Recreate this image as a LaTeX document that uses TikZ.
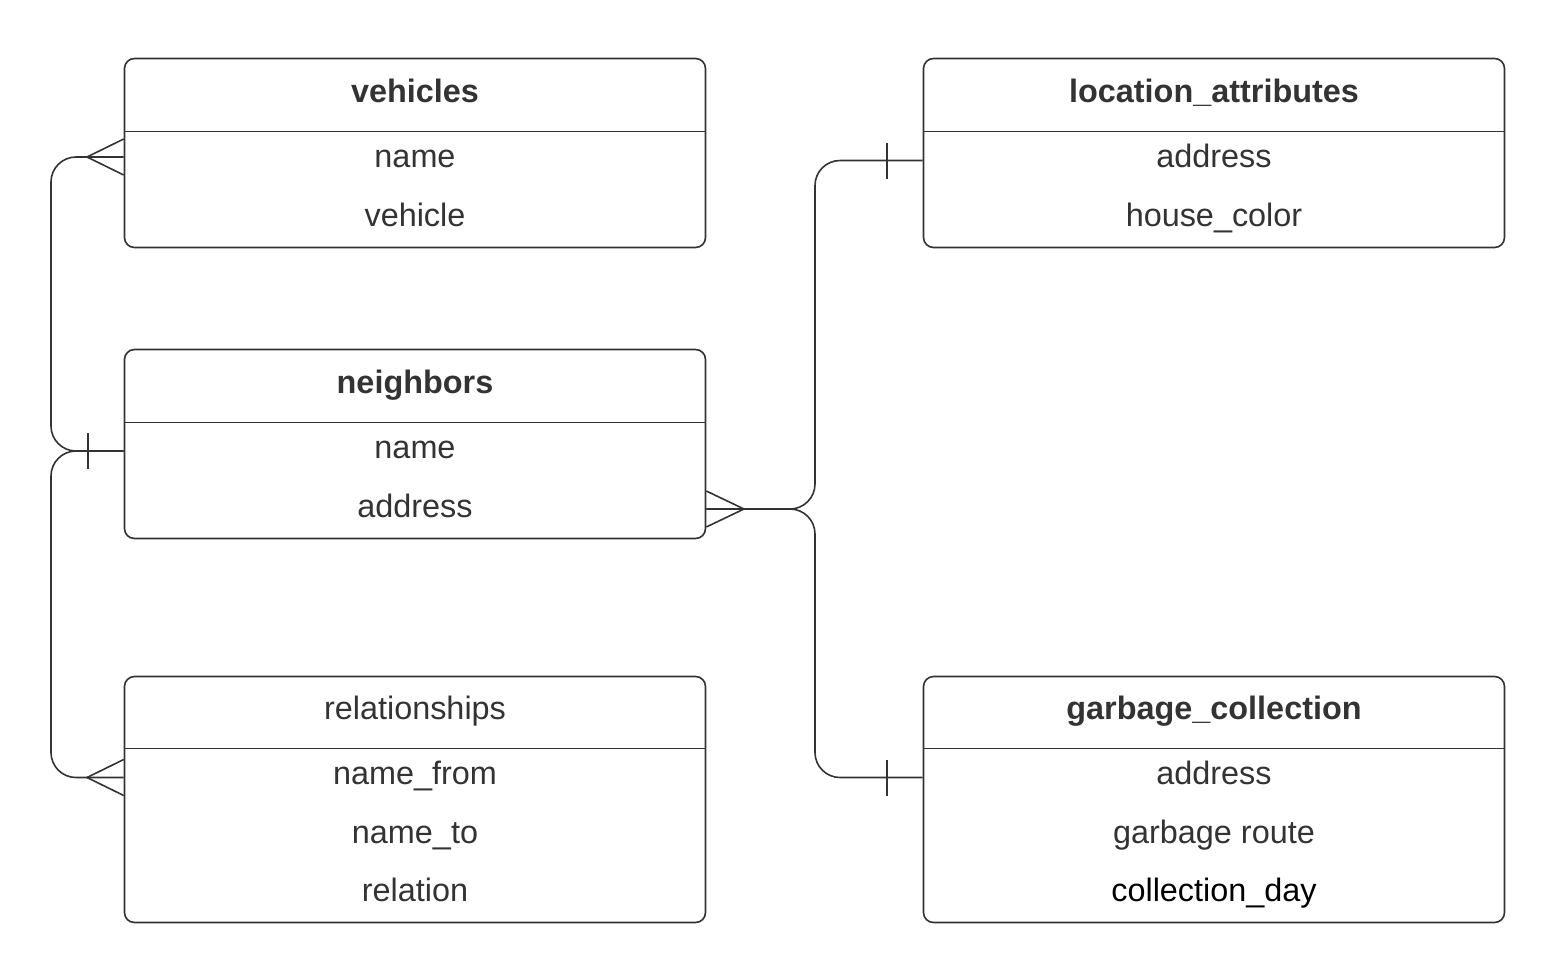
\documentclass[tikz,border=0pt]{standalone}
\usepackage{fontspec}
\setmainfont{Liberation Sans}
\definecolor{ink}{HTML}{333333}
\begin{document}
\begin{tikzpicture}[x=1pt,y=-1pt,
  entity/.style={draw=ink, line width=1.6pt, rounded corners=10pt, inner sep=0pt, minimum width=581pt},
  sep/.style={draw=ink, line width=1.6pt},
  conn/.style={draw=ink, line width=1.6pt, rounded corners=25pt},
  foot/.style={draw=ink, line width=1.6pt},
  txt/.style={anchor=base, text=ink, font=\fontsize{32.4}{38}\selectfont, inner sep=0pt},
  ttl/.style={txt, font=\fontsize{32.4}{38}\selectfont\bfseries}
]
\useasboundingbox (0,0) rectangle (1550,972);

% ---------- vehicles ----------
\node[entity, minimum height=189pt] (veh) at (415,153) {};
\draw[sep] (veh.west |- 0,131.5) -- (veh.east |- 0,131.5);
\node[ttl] (vehT) at (415,102) {vehicles};
\node[txt] (vehA) at (415,167.5) {name};
\node[txt] (vehB) at (415,226) {vehicle};

% ---------- neighbors ----------
\node[entity, minimum height=189pt] (nb) at (415,444) {};
\draw[sep] (nb.west |- 0,422.5) -- (nb.east |- 0,422.5);
\node[ttl] (nbT) at (415,393) {neighbors};
\node[txt] (nbA) at (415,458.5) {name};
\node[txt] (nbB) at (415,517) {address};

% ---------- relationships ----------
\node[entity, minimum height=246pt] (rel) at (415,799.5) {};
\draw[sep] (rel.west |- 0,748.5) -- (rel.east |- 0,748.5);
\node[txt] (relT) at (415,719.5) {relationships};
\node[txt] (relA) at (415,784) {name\_from};
\node[txt] (relB) at (415,843) {name\_to};
\node[txt] (relC) at (415,901.5) {relation};

% ---------- location_attributes ----------
\node[entity, minimum height=189pt] (loc) at (1214,153) {};
\draw[sep] (loc.west |- 0,131.5) -- (loc.east |- 0,131.5);
\node[ttl] (locT) at (1214,102) {location\_attributes};
\node[txt] (locA) at (1214,167.5) {address};
\node[txt] (locB) at (1214,226) {house\_color};

% ---------- garbage_collection ----------
\node[entity, minimum height=246pt] (gar) at (1214,799.5) {};
\draw[sep] (gar.west |- 0,748.5) -- (gar.east |- 0,748.5);
\node[ttl] (garT) at (1214,719.5) {garbage\_collection};
\node[txt] (garA) at (1214,784) {address};
\node[txt] (garB) at (1214,843) {garbage route};
\node[txt, text=black] (garC) at (1214,901.5) {collection\_day};

% ---------- connectors ----------
% neighbors -> vehicles
\draw[conn] (nb.west |- 0,451) -- (51,451) -- (51,157) -- (veh.west |- 0,157);
% neighbors -> relationships
\draw[conn] (nb.west |- 0,451) -- (51,451) -- (51,777.5) -- (rel.west |- 0,777.5);
% neighbors -> location_attributes
\draw[conn] (nb.east |- 0,509) -- (815,509) -- (815,160.5) -- (loc.west |- 0,160.5);
% neighbors -> garbage_collection
\draw[conn] (nb.east |- 0,509) -- (815,509) -- (815,777.5) -- (gar.west |- 0,777.5);

% crow's feet (many)
\draw[foot] (veh.west |- 0,139) -- (87,157) -- (veh.west |- 0,175);
\draw[foot] (rel.west |- 0,759.5) -- (87,777.5) -- (rel.west |- 0,795.5);
\draw[foot] (nb.east |- 0,491) -- (744,509) -- (nb.east |- 0,527);
% bars (one)
\draw[foot] (88,433) -- (88,469);
\draw[foot] (887,142.5) -- (887,178.5);
\draw[foot] (887,759.5) -- (887,795.5);
\end{tikzpicture}
\end{document}
